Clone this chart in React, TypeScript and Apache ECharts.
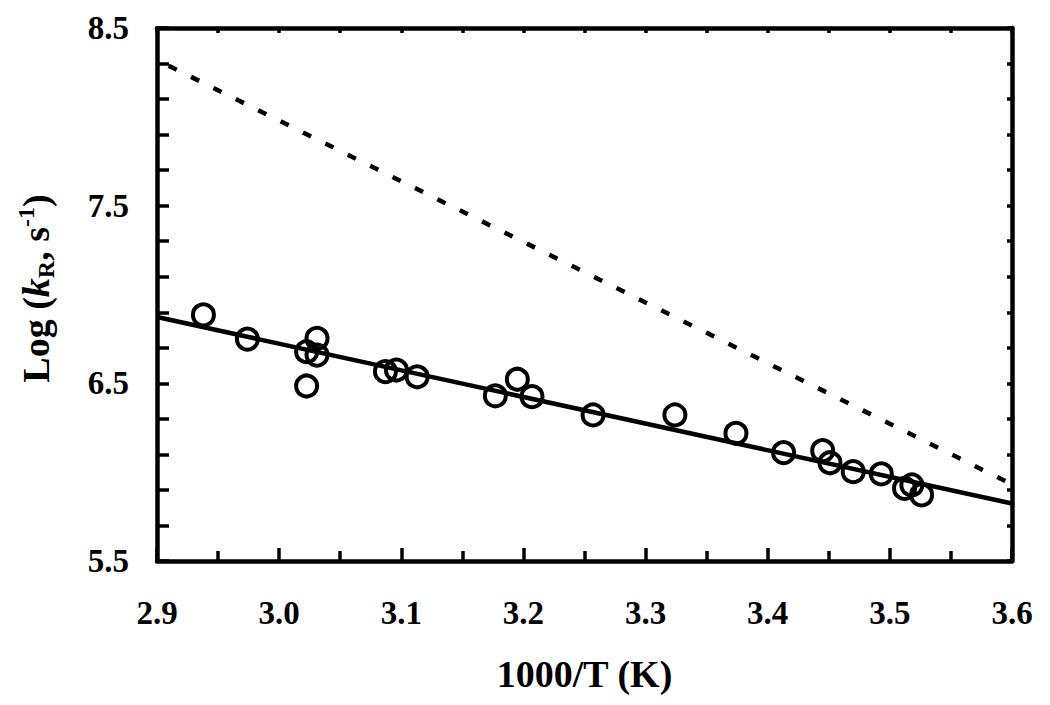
import React, { useEffect, useRef } from "react";
import * as echarts from "echarts";

const xValues = [2.938, 2.974, 3.031, 3.0225, 3.031, 3.0225, 3.087, 3.096, 3.113, 3.177, 3.195, 3.207, 3.257, 3.324, 3.374, 3.413, 3.445, 3.451, 3.47, 3.493, 3.512, 3.518, 3.526];
const yValues = [6.885, 6.749, 6.753, 6.678, 6.659, 6.485, 6.566, 6.575, 6.537, 6.43, 6.523, 6.425, 6.322, 6.322, 6.219, 6.11, 6.121, 6.053, 6.003, 5.99, 5.909, 5.928, 5.872];
const fitX = [2.9, 3.6];
const fitY = [6.873, 5.824];
const dashX = [2.9, 3.6];
const dashY = [8.32, 5.931];

const FONT = "'Liberation Serif', 'Times New Roman', serif";

export default function App() {
  const ref = useRef<HTMLDivElement>(null);
  useEffect(() => {
    if (!ref.current) return;
    const chart = echarts.init(ref.current, null, { renderer: "svg" });
    const label = { fontFamily: FONT, fontWeight: "bold", fontSize: 33, color: "#000" };
    const axisLine = { show: true, onZero: false, lineStyle: { color: "#000", width: 4.5 } };
    const tickStyle = { color: "#000", width: 3.5 };
    const nameBase = { fontFamily: FONT, fontWeight: "bold", fontSize: 38, color: "#000" };
    chart.setOption({
      animation: false,
      backgroundColor: "#fff",
      grid: { left: 157, right: 38, top: 28, bottom: 144, containLabel: false },
      xAxis: [
        {
          type: "value", position: "bottom", min: 2.9, max: 3.6, interval: 0.1,
          axisLine,
          axisTick: { show: true, inside: true, length: 13, lineStyle: tickStyle },
          minorTick: { show: true, splitNumber: 2, length: 10, lineStyle: tickStyle },
          axisLabel: { ...label, margin: 35, formatter: (v: number) => v.toFixed(1) },
          splitLine: { show: false },
          name: "1000/T (K)", nameLocation: "middle", nameGap: 94,
          nameTextStyle: nameBase,
        },
        {
          type: "value", position: "top", min: 2.9, max: 3.6, interval: 0.1,
          axisLine,
          axisTick: { show: true, inside: true, length: 5, lineStyle: tickStyle },
          minorTick: { show: true, splitNumber: 2, length: 5, lineStyle: tickStyle },
          axisLabel: { show: false },
          splitLine: { show: false },
        },
      ],
      yAxis: [
        {
          type: "value", position: "left", min: 5.5, max: 8.5, interval: 1,
          axisLine,
          axisTick: { show: true, inside: true, length: 12, lineStyle: tickStyle },
          minorTick: { show: true, splitNumber: 5, length: 12, lineStyle: tickStyle },
          axisLabel: { ...label, margin: 28, formatter: (v: number) => v.toFixed(1) },
          splitLine: { show: false },
          name: "{a|Log (}{i|k}{sub|R}{a|, s}{sup|-1}{a|)}",
          nameLocation: "middle", nameGap: 99, nameRotate: 90,
          nameTextStyle: {
            ...nameBase,
            padding: [0, 0, 0, 12],
            rich: {
              a: { ...nameBase, lineHeight: 44, verticalAlign: "middle" },
              i: { ...nameBase, fontStyle: "italic", lineHeight: 44, verticalAlign: "middle" },
              sub: { ...nameBase, fontSize: 24, lineHeight: 44, verticalAlign: "bottom", padding: [12, 0, 0, 0] },
              sup: { ...nameBase, fontSize: 24, lineHeight: 44, verticalAlign: "top", padding: [0, 0, 10, 0] },
            },
          },
        },
        {
          type: "value", position: "right", min: 5.5, max: 8.5, interval: 1,
          axisLine,
          axisTick: { show: true, inside: true, length: 5, lineStyle: tickStyle },
          minorTick: { show: true, splitNumber: 5, length: 5, lineStyle: tickStyle },
          axisLabel: { show: false },
          splitLine: { show: false },
        },
      ],
      series: [
        {
          type: "line", xAxisIndex: 0, yAxisIndex: 0,
          data: dashX.map((x, i) => [x, dashY[i]]),
          symbol: "none", clip: true,
          lineStyle: { color: "#000", width: 4.5, type: [9, 16], dashOffset: 12 },
        },
        {
          type: "line", xAxisIndex: 0, yAxisIndex: 0,
          data: fitX.map((x, i) => [x, fitY[i]]),
          symbol: "none", clip: true,
          lineStyle: { color: "#000", width: 4.5 },
        },
        {
          type: "scatter", xAxisIndex: 0, yAxisIndex: 0,
          data: xValues.map((x, i) => [x, yValues[i]]),
          symbol: "circle", symbolSize: 21,
          itemStyle: { color: "rgba(0,0,0,0)", borderColor: "#000", borderWidth: 4, opacity: 1 },
        },
      ],
    });
    return () => chart.dispose();
  }, []);
  return (
    <div
      ref={ref}
      style={{ position: "fixed", left: 0, top: 0, width: 1050, height: 705, background: "#fff" }}
    />
  );
}
